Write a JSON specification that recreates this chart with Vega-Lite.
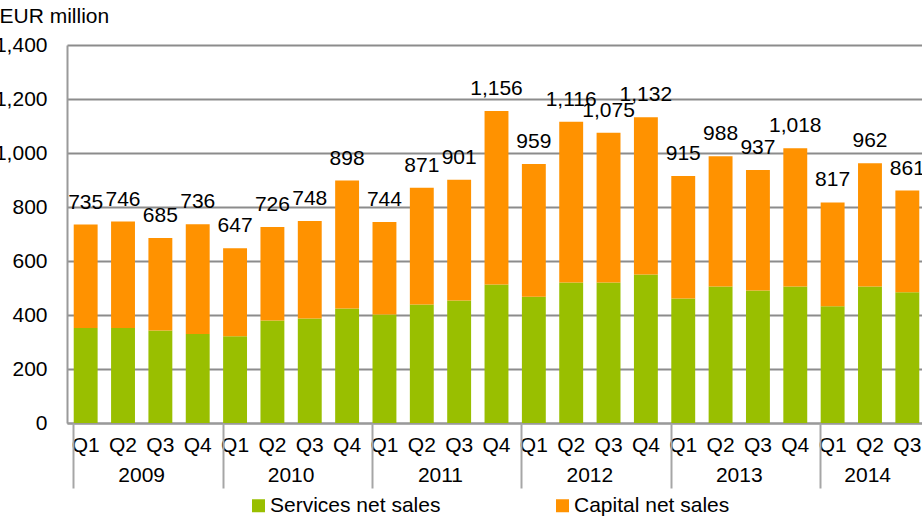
{
  "$schema": "https://vega.github.io/schema/vega-lite/v6.json",
  "autosize": {"type": "none"},
  "width": 859,
  "height": 378,
  "padding": {"left": 67, "top": 45, "right": -4, "bottom": 93},
  "background": "white",
  "data": {
    "values": [
      {"period": "2009 Q1", "series": "Services net sales", "value": 352},
      {"period": "2009 Q1", "series": "Capital net sales", "value": 383},
      {"period": "2009 Q2", "series": "Services net sales", "value": 352},
      {"period": "2009 Q2", "series": "Capital net sales", "value": 394},
      {"period": "2009 Q3", "series": "Services net sales", "value": 343},
      {"period": "2009 Q3", "series": "Capital net sales", "value": 342},
      {"period": "2009 Q4", "series": "Services net sales", "value": 330},
      {"period": "2009 Q4", "series": "Capital net sales", "value": 406},
      {"period": "2010 Q1", "series": "Services net sales", "value": 321},
      {"period": "2010 Q1", "series": "Capital net sales", "value": 326},
      {"period": "2010 Q2", "series": "Services net sales", "value": 380},
      {"period": "2010 Q2", "series": "Capital net sales", "value": 346},
      {"period": "2010 Q3", "series": "Services net sales", "value": 387},
      {"period": "2010 Q3", "series": "Capital net sales", "value": 361},
      {"period": "2010 Q4", "series": "Services net sales", "value": 424},
      {"period": "2010 Q4", "series": "Capital net sales", "value": 474},
      {"period": "2011 Q1", "series": "Services net sales", "value": 402},
      {"period": "2011 Q1", "series": "Capital net sales", "value": 342},
      {"period": "2011 Q2", "series": "Services net sales", "value": 439},
      {"period": "2011 Q2", "series": "Capital net sales", "value": 432},
      {"period": "2011 Q3", "series": "Services net sales", "value": 454},
      {"period": "2011 Q3", "series": "Capital net sales", "value": 447},
      {"period": "2011 Q4", "series": "Services net sales", "value": 513},
      {"period": "2011 Q4", "series": "Capital net sales", "value": 643},
      {"period": "2012 Q1", "series": "Services net sales", "value": 468},
      {"period": "2012 Q1", "series": "Capital net sales", "value": 491},
      {"period": "2012 Q2", "series": "Services net sales", "value": 520},
      {"period": "2012 Q2", "series": "Capital net sales", "value": 596},
      {"period": "2012 Q3", "series": "Services net sales", "value": 520},
      {"period": "2012 Q3", "series": "Capital net sales", "value": 555},
      {"period": "2012 Q4", "series": "Services net sales", "value": 550},
      {"period": "2012 Q4", "series": "Capital net sales", "value": 582},
      {"period": "2013 Q1", "series": "Services net sales", "value": 461},
      {"period": "2013 Q1", "series": "Capital net sales", "value": 454},
      {"period": "2013 Q2", "series": "Services net sales", "value": 506},
      {"period": "2013 Q2", "series": "Capital net sales", "value": 482},
      {"period": "2013 Q3", "series": "Services net sales", "value": 491},
      {"period": "2013 Q3", "series": "Capital net sales", "value": 446},
      {"period": "2013 Q4", "series": "Services net sales", "value": 506},
      {"period": "2013 Q4", "series": "Capital net sales", "value": 512},
      {"period": "2014 Q1", "series": "Services net sales", "value": 432},
      {"period": "2014 Q1", "series": "Capital net sales", "value": 385},
      {"period": "2014 Q2", "series": "Services net sales", "value": 506},
      {"period": "2014 Q2", "series": "Capital net sales", "value": 456},
      {"period": "2014 Q3", "series": "Services net sales", "value": 484},
      {"period": "2014 Q3", "series": "Capital net sales", "value": 377}
    ]
  },
  "layer": [
    {
      "mark": {"type": "bar"},
      "encoding": {
        "x": {
          "field": "period",
          "type": "nominal",
          "scale": {"paddingInner": 0.36, "paddingOuter": 0.18},
          "axis": {
            "orient": "bottom",
            "title": null,
            "labelExpr": "slice(datum.label, 5)",
            "ticks": false,
            "labelPadding": 11,
            "labelAngle": 0,
            "labelOverlap": false,
            "labelBound": false,
            "domain": true,
            "domainColor": "#9a9a9a",
            "domainWidth": 2,
            "grid": false
          }
        },
        "y": {
          "field": "value",
          "type": "quantitative",
          "stack": "zero",
          "scale": {"domain": [0, 1400], "nice": false, "zero": true},
          "axis": {
            "title": "EUR million",
            "values": [0, 200, 400, 600, 800, 1000, 1200, 1400],
            "format": ",.0f",
            "grid": true,
            "gridColor": "#8c8c8c",
            "gridWidth": 2,
            "domain": true,
            "domainColor": "#9a9a9a",
            "domainWidth": 2,
            "ticks": false,
            "labelPadding": 20,
            "labelBaseline": "middle",
            "titleAngle": 0,
            "titleAlign": "left",
            "titleBaseline": "alphabetic",
            "titleX": -68,
            "titleY": -23,
            "titleFontSize": 21,
            "titleFontWeight": "normal"
          }
        },
        "color": {
          "field": "series",
          "type": "nominal",
          "scale": {"domain": ["Services net sales", "Capital net sales"], "range": ["#99bf00", "#ff9200"]},
          "legend": {
            "title": null,
            "orient": "none",
            "direction": "horizontal",
            "legendX": 181,
            "legendY": 450,
            "symbolType": "square",
            "symbolSize": 169,
            "symbolStrokeWidth": 0,
            "symbolOpacity": 1,
            "labelFontSize": 21,
            "labelFont": "Liberation Sans",
            "labelColor": "#000000",
            "labelLimit": 400,
            "labelOffset": 1,
            "columnPadding": 111,
            "padding": 0
          }
        },
        "order": {"field": "series", "sort": "descending"}
      }
    },
    {
      "mark": {"type": "text", "baseline": "alphabetic", "dy": -16, "fontSize": 21, "font": "Liberation Sans", "color": "#000000"},
      "encoding": {
        "x": {
          "field": "period",
          "type": "nominal",
          "axis": {
            "orient": "bottom",
            "title": null,
            "values": ["2009 Q1", "2010 Q1", "2011 Q1", "2012 Q1", "2013 Q1", "2014 Q1"],
            "bandPosition": 0,
            "labelExpr": "slice(datum.value, 0, 4)",
            "ticks": true,
            "tickSize": 65,
            "tickColor": "#a6a6a6",
            "tickWidth": 2,
            "domain": false,
            "grid": false,
            "labelPadding": -24,
            "labelAngle": 0,
            "labelAlign": "center",
            "labelOverlap": false,
            "labelBound": false,
            "labelOffset": {"condition": {"test": "datum.value == '2014 Q1'", "value": 35}, "value": 56}
          }
        },
        "y": {
          "aggregate": "sum",
          "field": "value",
          "type": "quantitative",
          "axis": {
            "title": "EUR million",
            "values": [0, 200, 400, 600, 800, 1000, 1200, 1400],
            "format": ",.0f",
            "grid": true,
            "gridColor": "#8c8c8c",
            "gridWidth": 2,
            "domain": true,
            "domainColor": "#9a9a9a",
            "domainWidth": 2,
            "ticks": false,
            "labelPadding": 20,
            "labelBaseline": "middle",
            "titleAngle": 0,
            "titleAlign": "left",
            "titleBaseline": "alphabetic",
            "titleX": -68,
            "titleY": -23,
            "titleFontSize": 21,
            "titleFontWeight": "normal"
          }
        },
        "text": {"aggregate": "sum", "field": "value", "type": "quantitative", "format": ","}
      }
    }
  ],
  "resolve": {"axis": {"x": "independent"}},
  "config": {
    "font": "Liberation Sans",
    "view": {"stroke": null},
    "axis": {
      "labelFont": "Liberation Sans",
      "labelFontSize": 21,
      "labelColor": "#000000",
      "titleFont": "Liberation Sans",
      "titleColor": "#000000"
    }
  }
}
